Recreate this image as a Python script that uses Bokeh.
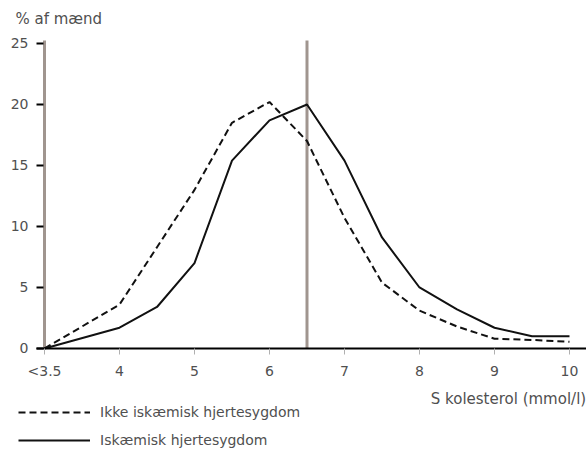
from bokeh.plotting import figure
from bokeh.models import Label, Legend, LegendItem, FixedTicker, ColumnDataSource, Range1d
from bokeh.embed import file_html
from bokeh.resources import INLINE

# ---- data ----
x_vals = [3, 4, 4.5, 5, 5.5, 6, 6.5, 7, 7.5, 8, 8.5, 9, 9.5, 10]   # 3 == "<3.5"
ikke_iskaemisk = [0, 3.6, 8.3, 13.0, 18.5, 20.2, 17.0, 10.7, 5.4, 3.1, 1.8, 0.8, 0.7, 0.55]
iskaemisk = [0, 1.7, 3.4, 7.0, 15.4, 18.7, 20.0, 15.4, 9.1, 5.0, 3.2, 1.7, 1.0, 1.0]
x_ticks = [3, 4, 5, 6, 7, 8, 9, 10]
x_tick_labels = ["<3.5", "4", "5", "6", "7", "8", "9", "10"]
y_ticks = [0, 5, 10, 15, 20, 25]
ref_line_x = 6.5
series_names = ["Ikke iskæmisk hjertesygdom", "Iskæmisk hjertesygdom"]
y_title = "% af mænd"
x_title = "S kolesterol (mmol/l)"

FONT = "DejaVu Sans"
TXT = "#505050"
BROWN = "#a0958f"
Y_TOP = 25.25          # top of the vertical rules
X_AXIS_START = 2.893   # left end of the x-axis line / y-axis position

src = ColumnDataSource(dict(x=x_vals, a=ikke_iskaemisk, b=iskaemisk))

p = figure(width=586, height=452, output_backend="svg", toolbar_location=None,
           x_range=Range1d(2.4133, 10.2267), y_range=Range1d(-8.525, 28.52),
           min_border=0, min_border_left=0, min_border_right=0,
           min_border_top=0, min_border_bottom=0)
p.outline_line_color = None
p.grid.visible = False
p.background_fill_color = "white"
p.border_fill_color = "white"

# axes (pinned inside the frame)
xa = p.xaxis[0]
xa.fixed_location = 0
xa.bounds = (X_AXIS_START, 10.2267)
xa.ticker = FixedTicker(ticks=x_ticks)
xa.major_label_overrides = {t: l for t, l in zip(x_ticks, x_tick_labels)}
xa.axis_line_color = "black"
xa.axis_line_width = 2
xa.major_tick_in = 0
xa.major_tick_out = 6
xa.major_tick_line_color = "#b0b0b0"
xa.major_tick_line_width = 1
xa.minor_tick_line_color = None
xa.major_label_text_font = FONT
xa.major_label_text_font_size = "14px"
xa.major_label_text_color = TXT
xa.major_label_standoff = 9

ya = p.yaxis[0]
ya.fixed_location = X_AXIS_START
ya.ticker = FixedTicker(ticks=y_ticks)
ya.axis_line_color = None
ya.major_tick_in = 7
ya.major_tick_out = 0
ya.major_tick_line_color = "black"
ya.major_tick_line_width = 2
ya.minor_tick_line_color = None
ya.major_label_text_font = FONT
ya.major_label_text_font_size = "14px"
ya.major_label_text_color = TXT
ya.major_label_standoff = 8

# y-axis rule and reference rule at 6.5
p.segment(x0=[x_ticks[0], ref_line_x], y0=[0, 0], x1=[x_ticks[0], ref_line_x], y1=[Y_TOP, Y_TOP],
          line_color=BROWN, line_width=3)

r1 = p.line("x", "a", source=src, line_color="#111111", line_width=2, line_dash="7 4")
r2 = p.line("x", "b", source=src, line_color="#111111", line_width=2)

p.add_layout(Label(x=2.613, y=26.97, text=y_title, text_font=FONT, text_font_size="15px",
                   text_color=TXT, text_baseline="middle", text_align="left"))
p.add_layout(Label(x=10.222, y=-4.18, text=x_title, text_font=FONT, text_font_size="15px",
                   text_color=TXT, text_baseline="middle", text_align="right"))

legend = Legend(items=[LegendItem(label=series_names[0], renderers=[r1]),
                       LegendItem(label=series_names[1], renderers=[r2])],
                location=(18, 4), padding=0, margin=0, spacing=12,
                glyph_width=72, glyph_height=12, label_height=12, label_standoff=10,
                label_text_font=FONT, label_text_font_size="14px", label_text_color=TXT,
                border_line_color=None, background_fill_alpha=0)
p.add_layout(legend)

open("out.html", "w").write(file_html(p, INLINE))
